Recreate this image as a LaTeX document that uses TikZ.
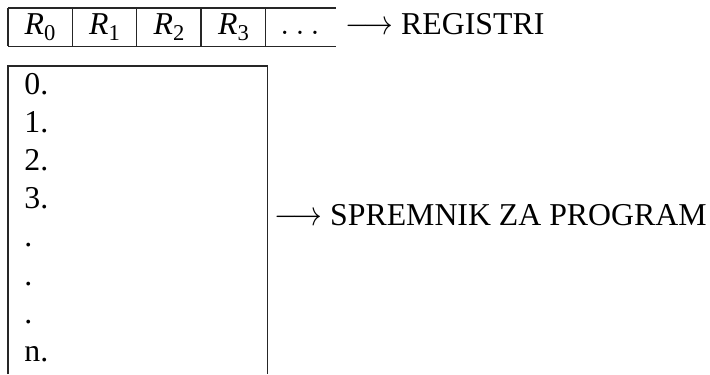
\documentclass[tikz,border=0pt]{standalone}
\usepackage{fontspec}
\setmainfont{Liberation Serif}
\newcommand{\myarrow}{\scalebox{0.86}[1]{$\longrightarrow$}}
\begin{document}
\begin{tikzpicture}[x=0.5pt,y=-0.5pt,
  txt/.style={inner sep=0pt,font=\fontsize{15.9}{18}\selectfont},
  rule/.style={line width=0.55pt,draw=black!85}]
\useasboundingbox (0,0) rectangle (710,374);
% register strip
\draw[rule] (8,8) -- (336,8);
\draw[rule] (8,46.5) -- (336,46.5);
\foreach \x in {8,72.3,136.7,201,265.7}
  \draw[rule] (\x,8) -- (\x,46.5);
\node[txt,anchor=base] (r0) at (40,35) {\textit{R}\raisebox{-0.35ex}{\fontsize{11.3}{12}\selectfont 0}};
\node[txt,anchor=base] (r1) at (104.5,35) {\textit{R}\raisebox{-0.35ex}{\fontsize{11.3}{12}\selectfont 1}};
\node[txt,anchor=base] (r2) at (169,35) {\textit{R}\raisebox{-0.35ex}{\fontsize{11.3}{12}\selectfont 2}};
\node[txt,anchor=base] (r3) at (233.5,35) {\textit{R}\raisebox{-0.35ex}{\fontsize{11.3}{12}\selectfont 3}};
\node[txt,anchor=base] (rdots) at (300,35) {$\ldots$};
\node[txt,anchor=base west] (reg) at (345,35) {\myarrow\ REGISTRI};
% program memory
\draw[rule] (8,374) -- (8,66) -- (267.7,66) -- (267.7,374);
\foreach \t [count=\i from 0] in {0.,1.,2.,3.,.,.,.,n.}
  \node[txt,anchor=base west] (m\i) at (24,94+38.2*\i) {\t};
\node[txt,anchor=base west] (prog) at (274,225) {\myarrow\ SPREMNIK ZA PROGRAM};
\end{tikzpicture}
\end{document}
